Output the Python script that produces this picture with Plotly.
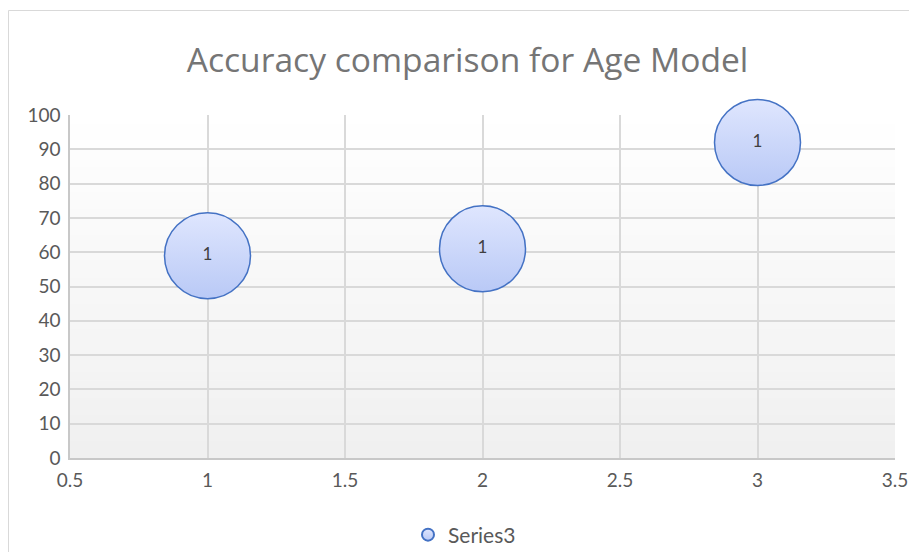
import plotly.graph_objects as go

x_vals = [1, 2, 3]
y_vals = [59, 61, 92]
bubble_sizes = [1, 1, 1]
series_name = "Series3"
title_text = "Accuracy comparison for Age Model"

OFF = 8  # default body margin of the html page
W, H = 917 - OFF, 552 - OFF
L, T = 70 - OFF, 115 - OFF
pw, ph = 825, 343
R, B = W - L - pw, H - T - ph

fig = go.Figure()
fig.add_trace(go.Scatter(
    x=x_vals, y=y_vals, mode="markers+text", name=series_name,
    text=[str(s) for s in bubble_sizes], textposition="middle center",
    textfont=dict(family="Lato, Carlito, sans-serif", size=17, color="#404040"),
    marker=dict(size=bubble_sizes, sizemode="diameter", sizeref=1 / 86,
                color="#dfe6fe",
                gradient=dict(type="vertical", color="#b9c9f6"),
                line=dict(color="#4472c4", width=1.5), opacity=1),
    cliponaxis=False,
    showlegend=True,
))

shapes = []
n = 40
for i in range(n):
    f = i / n
    c0 = 255 - int(round(15 * (1 - f)))
    shapes.append(dict(type="rect", xref="paper", yref="paper",
                       x0=0, x1=1, y0=f, y1=f + 1 / n + 0.002,
                       fillcolor=f"rgb({c0},{c0},{c0})", line=dict(width=0),
                       layer="below"))
# chart border
shapes.append(dict(type="rect", xref="paper", yref="paper",
                   x0=(8.5 - 70) / pw, x1=(917 + 5 - 70) / pw,
                   y0=(458 - 560) / ph, y1=(458 - 10.5) / ph,
                   line=dict(color="#d9d9d9", width=1), fillcolor="rgba(0,0,0,0)",
                   layer="below"))

fig.update_layout(
    width=W, height=H,
    margin=dict(l=L, r=R, t=T, b=B, autoexpand=False),
    paper_bgcolor="white", plot_bgcolor="white",
    title=dict(text=title_text, x=0.5 + 5 / W, xanchor="center", y=1 - (60 - OFF) / H, yanchor="middle",
               font=dict(family="Open Sans, sans-serif", size=33.6, color="#757575")),
    font=dict(family="Lato, Carlito, sans-serif", size=19, color="#595959"),
    xaxis=dict(range=[0.5, 3.5], dtick=0.5, tick0=0.5, showgrid=True, gridcolor="#d9d9d9",
               gridwidth=1.5, zeroline=False, showline=True, linecolor="#c8c8c8", linewidth=1.5,
               ticks="", ticklabelstandoff=4, tickfont=dict(size=19, color="#595959")),
    yaxis=dict(range=[0, 100], dtick=10, showgrid=True, gridcolor="#d9d9d9", gridwidth=1.5,
               zeroline=False, showline=True, linecolor="#c8c8c8", linewidth=1.5,
               ticks="", ticklabelstandoff=4, tickfont=dict(size=19, color="#595959")),
    legend=dict(orientation="h", x=0.5 - 18 / pw, xanchor="center", y=-(535 - 458) / ph,
                yanchor="middle", font=dict(size=21, color="#595959"),
                itemsizing="constant", bgcolor="rgba(0,0,0,0)"),
    shapes=shapes,
)

fig.write_html("out.html")
